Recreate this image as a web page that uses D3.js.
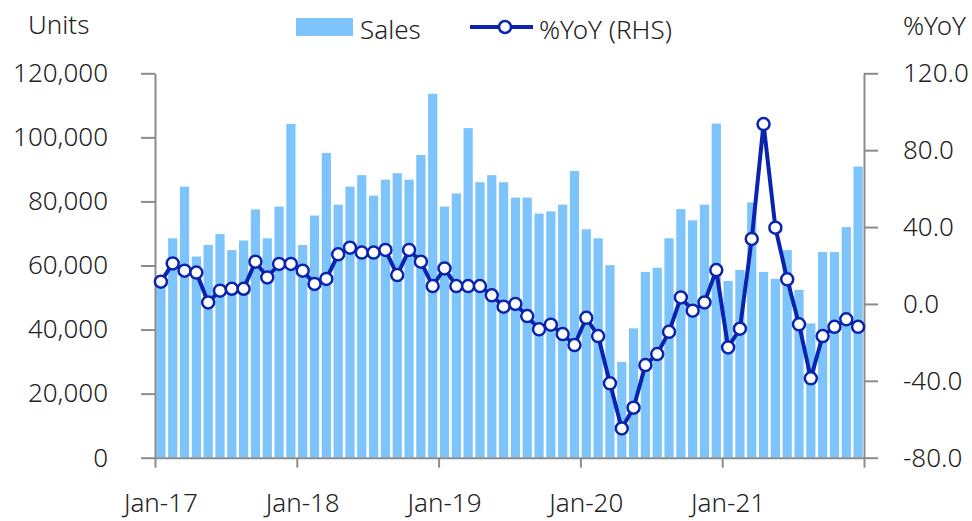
<!DOCTYPE html>
<html>
<head>
<meta charset="utf-8">
<script src="https://cdn.jsdelivr.net/npm/d3@7"></script>
<style>
  body { margin: 0; background: #fff; }
  svg text { font-family: "Noto Sans", "DejaVu Sans", sans-serif; font-weight: 300; fill: #222; }
</style>
</head>
<body>
<div id="chart"></div>
<script>
// monthly categories Jan-17 .. Dec-21
const months = d3.utcMonth.range(new Date(Date.UTC(2017, 0, 1)), new Date(Date.UTC(2022, 0, 1)))

const sales = [
  57000, 68500, 84600, 62800, 66400, 69800, 64800, 67800, 77500, 68500, 78400, 104200,
  66400, 75600, 95100, 79000, 84600, 88200, 81800, 86800, 88800, 86800, 94500, 113600,
  78400, 82500, 102900, 86000, 88200, 86000, 81200, 81200, 76200, 76900, 79000, 89500,
  71300, 68500, 60100, 29900, 40400, 58000, 59300, 68500, 77600, 74100, 79000, 104300,
  55200, 58600, 79700, 58000, 55800, 64800, 52400, 41900, 64200, 64200, 72000, 90900
]

const yoy = [
  11.6, 21.1, 17.3, 16.3, 0.8, 6.9, 7.9, 7.9, 22.0, 13.8, 20.8, 20.8,
  17.3, 10.4, 13.0, 25.8, 29.3, 26.7, 26.7, 28.1, 15.0, 28.1, 22.0, 9.3,
  18.5, 9.3, 9.3, 9.3, 4.5, -1.4, 0.0, -6.3, -13.2, -10.8, -15.7, -21.4,
  -7.2, -16.7, -41.3, -64.8, -54.0, -31.8, -26.1, -14.5, 3.4, -3.5, 0.8, 17.6,
  -22.6, -12.9, 33.8, 93.6, 39.7, 12.8, -10.6, -38.7, -16.7, -11.9, -8.0, -11.9
]

const leftTicks = [0, 20000, 40000, 60000, 80000, 100000, 120000]
const rightTicks = [-80, -40, 0, 40, 80, 120]
const xLabelIdx = [0, 12, 24, 36, 48]
const xTickIdx = [0, 12, 24, 36, 48, 60]

const w = 972
const h = 521
const padL = 155, padR = 864, padT = 73.3, padB = 457.7
const barColor = "#7cc4fb"
const lineColor = "#0a24b0"
const axisColor = "#8c8c8c"

const svg = d3.select("#chart")
              .append("svg")
              .attr("width", w)
              .attr("height", h)

const xBand = d3.scaleBand()
                .domain(d3.range(months.length))
                .range([padL, padR])
                .paddingInner(0.22)
                .paddingOuter(0.11)
const xLin = d3.scaleLinear()
               .domain([0, months.length])
               .range([padL, padR])
const yLeft = d3.scaleLinear()
                .domain([0, 120000])
                .range([padB, padT])
const yRight = d3.scaleLinear()
                 .domain([-80, 120])
                 .range([padB, padT])

// bars
svg.append("g")
   .selectAll("rect")
   .data(sales)
   .enter()
   .append("rect")
   .attr("x", (d, i) => xBand(i))
   .attr("y", (d) => yLeft(d))
   .attr("width", xBand.bandwidth())
   .attr("height", (d) => yLeft(0) - yLeft(d))
   .attr("fill", barColor)

// axes
const styleAxis = (g) => {
  g.selectAll("path, line").attr("stroke", axisColor).attr("stroke-width", 2)
  g.selectAll("text").attr("font-size", 26).attr("fill", "#222")
}

svg.append("g")
   .attr("transform", "translate(" + padL + ",0)")
   .call(d3.axisLeft(yLeft)
           .tickValues(leftTicks)
           .tickSize(14)
           .tickSizeOuter(0)
           .tickPadding(33)
           .tickFormat(d3.format(",")))
   .call(styleAxis)

svg.append("g")
   .attr("transform", "translate(" + padR + ",0)")
   .call(d3.axisRight(yRight)
           .tickValues(rightTicks)
           .tickSize(14)
           .tickSizeOuter(0)
           .tickPadding(25)
           .tickFormat((d) => d.toFixed(1)))
   .call(styleAxis)
   .selectAll("text")
   .attr("fill", (d) => d < 0 ? "#ff0000" : "#222")

svg.append("g")
   .attr("transform", "translate(0," + padB + ")")
   .call(d3.axisBottom(xLin)
           .tickValues(xTickIdx)
           .tickSize(10)
           .tickSizeOuter(0)
           .tickFormat(""))
   .call(styleAxis)

const fmtMonth = d3.utcFormat("%b-%y")
svg.append("g")
   .selectAll("text")
   .data(xLabelIdx)
   .enter()
   .append("text")
   .attr("x", (d) => xBand(d) + xBand.bandwidth() / 2)
   .attr("y", 512)
   .attr("text-anchor", "middle")
   .attr("font-size", 26)
   .text((d) => fmtMonth(months[d]))

// yoy line
const line = d3.line()
               .x((d, i) => xBand(i) + xBand.bandwidth() / 2)
               .y((d) => yRight(d))
svg.append("path")
   .datum(yoy)
   .attr("d", line)
   .attr("fill", "none")
   .attr("stroke", lineColor)
   .attr("stroke-width", 4)
   .attr("stroke-linejoin", "round")

svg.append("g")
   .selectAll("circle")
   .data(yoy)
   .enter()
   .append("circle")
   .attr("cx", (d, i) => xBand(i) + xBand.bandwidth() / 2)
   .attr("cy", (d) => yRight(d))
   .attr("r", 6)
   .attr("fill", "#fff")
   .attr("stroke", lineColor)
   .attr("stroke-width", 2.5)

// titles
svg.append("text").attr("x", 28).attr("y", 34).attr("font-size", 26).text("Units")
svg.append("text").attr("x", 966).attr("y", 35).attr("font-size", 26)
   .attr("text-anchor", "end").text("%YoY")

// legend
svg.append("rect").attr("x", 296).attr("y", 18).attr("width", 57).attr("height", 18).attr("fill", barColor)
svg.append("text").attr("x", 360).attr("y", 39).attr("font-size", 26).text("Sales")
svg.append("line").attr("x1", 470).attr("x2", 533).attr("y1", 27).attr("y2", 27)
   .attr("stroke", lineColor).attr("stroke-width", 4)
svg.append("circle").attr("cx", 505).attr("cy", 27).attr("r", 6)
   .attr("fill", "#fff").attr("stroke", lineColor).attr("stroke-width", 2.5)
svg.append("text").attr("x", 539).attr("y", 39).attr("font-size", 26).text("%YoY (RHS)")
</script>
</body>
</html>
